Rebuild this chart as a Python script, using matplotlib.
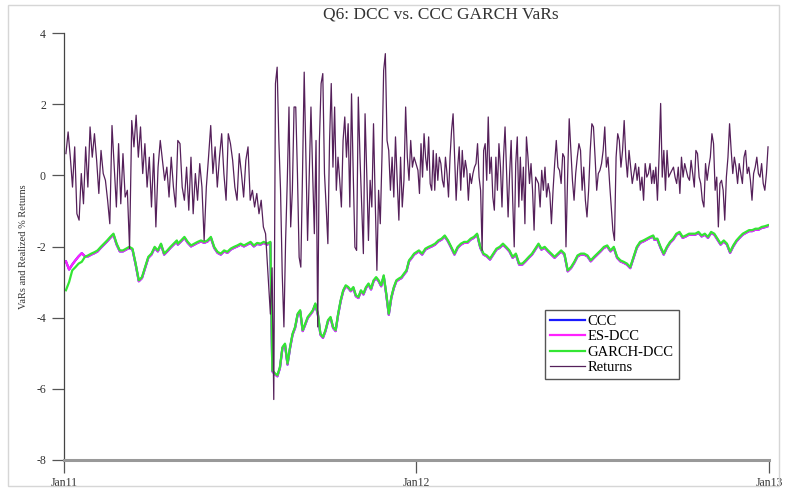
import matplotlib
matplotlib.use("Agg")
import matplotlib.pyplot as plt
import matplotlib.dates as mdates
import matplotlib.transforms as mtransforms
from matplotlib.patches import Rectangle
import numpy as np
import pandas as pd

plt.rcParams['font.family'] = ['Liberation Serif', 'DejaVu Serif']

# realized % returns
ret_2011_a = [0.61, 1.22, 0.51, -0.33, 0.80, -1.08, -1.26, 0.05, -0.80, 0.80,
              -0.33, 1.36, 0.51, 1.17, 0.42, -0.51, 0.70, 0.05, -0.14, -0.70,
              -1.36, 1.40, 0.23, -0.89, 0.89, -0.80, 0.61, -0.61, -0.42, -2.06,
              1.54, 0.80, 1.69, 0.51, 1.36, 0.05, 0.89, -0.33, 0.51, -0.89,
              0.61, -1.45, 0.23, 0.98, 0.42, -0.14, 0.23, -0.61, 0.51, -0.33,
              -0.89, 0.98, 0.89, -0.33, -0.70, 0.23, -0.98, 0.51, -1.08, 0.05,
              -0.70, 0.33, -0.33, -1.83, -0.33, 0.51, 1.40, 0.05, 0.80, -0.33,
              0.51, 1.17, 0.05, -0.70, 1.17, 0.89, 0.42, -0.33, -0.70, 0.61,
              0.05, -0.61, 0.42, 0.80, -0.70, -0.42, -0.89, -0.51, -1.08, -0.70,
              -1.45, -1.64]
ret_2011_b = [-3.90, -2.60, -6.30, 2.58, 3.04, 0.98, -0.42, -2.76, -4.26, -1.83,
              -0.14, 1.92, -1.45, -0.42, 1.92, 1.92, 0.05, -2.30, -2.58, 0.05,
              2.90, 0.51, -1.83, 0.05, 1.92, 0.05, -1.64, 0.98, -4.26, 0.98,
              2.58, 2.86, 0.05, -0.89, -1.92, 0.98, 2.58, 0.23, 1.92, -0.42,
              0.51, -0.14, -0.89, 0.98, 1.64, 0.51, 1.45, -0.89, 2.29, 0.05,
              -2.02, -2.11, 2.20, 0.51, -0.89, -2.20, 1.73, 0.05, -1.83, -0.14,
              -0.89, 1.45, -0.70, -2.67, -0.42, -1.36, 0.51, 2.95, 3.42, 0.98,
              0.70, -0.42, 0.51, -0.61, 1.08, -0.14, -1.26, 0.51, -0.89, -0.14,
              1.92, 0.51, -0.14, 0.98, 0.23, 0.51]
ret_2012_a = [0.14, -0.51, 0.89, -0.05, 1.17, 0.51, 0.14, 1.08, -0.23, -0.42,
              0.70, -0.42, 0.61, -0.14, 0.51, 0.33, -0.14, -0.33, 0.51, 0.05,
              -0.61, 0.51, 1.26, 1.73, 0.51, -0.70, 0.23, 0.80, -0.42, 0.70,
              -0.05, 0.42, 0.14, -0.70, 0.05, -0.23, 0.05, 0.23, 0.33, 0.89,
              -0.05, -0.42, -2.11, 0.70, 0.89, -0.14, 1.64, 0.05, 0.51, -0.61,
              -0.98, 0.51, -0.42, 0.89, 0.23, -0.89, 0.51, 1.36, 0.05, -1.17,
              0.05, 0.98, -0.70, -2.01, 0.33, 1.08, -0.89, 0.51, -0.70, 0.23,
              -1.36, 1.08, 0.51, -0.23, 0.33, -0.42, -1.54, -0.05]
ret_2012_b = [-0.23, -0.89, 0.14, -0.42, 0.23, -0.61, -0.23, -0.51, -1.36, -0.42,
              0.33, 0.98, 0.23, 0.14, -0.23, 0.61, 0.51, -2.01, -0.05, 1.59,
              0.70, -0.14, -0.70, 0.05, 0.51, 0.89, 0.70, -0.42, 0.23, -0.70,
              -1.17, -0.42, 0.70, 1.45, 1.36, 0.51, -0.42, 0.05, 0.14, 0.33,
              0.70, 1.36, 0.23, 0.51, -0.23, -0.89, -1.54, -1.83, 0.51, 1.17,
              0.98, 0.23, 0.70, 1.54, 0.51, -0.05, 0.70, 0.23, -0.23, 0.05,
              0.33, -0.14, 0.23, -0.42, -0.05, -0.70, 0.33, -0.05, 0.05, 0.33,
              -0.23, 0.14]
ret_2012_c = [-0.23, 0.23, -0.70, 0.51, 2.02, -0.05, 0.70, -0.42, 0.70, -0.05,
              0.05, 0.14, 0.23, -0.05, -0.23, 0.23, -0.51, 0.51, -0.05, 0.33,
              0.14, -0.05, -0.14, 0.42, 0.05, -0.33, 0.70, 0.61, -0.05, -0.23,
              -0.70, -0.89, 0.33, -0.14, 0.23, 0.51, 1.17, 0.89, -0.42, -0.05,
              -1.45, -0.23, -0.14, -0.42, -1.26, -0.05, 0.51, 1.45, 0.70, 0.05,
              0.51, 0.23, -0.23, 0.33, 0.05, -0.23, 0.51, 0.70, 0.05, 0.23,
              -0.14, -0.70, 0.05, 0.23, 0.51, 0.05, -0.05, 0.33, -0.23, -0.42,
              0.05, 0.80]
ret_periods = [("2011-01-03", "2011-07-29"), ("2011-08-03", "2011-12-30"),
               ("2012-01-03", "2012-05-04"), ("2012-05-07", "2012-09-03"),
               ("2012-09-04", "2012-12-31")]

# GARCH-DCC VaR
garch_2011_a = [-3.23, -3.00, -2.67, -2.58, -2.48, -2.43, -2.29, -2.25, -2.20, -2.16,
                -2.11, -2.01, -1.92, -1.83, -1.73, -1.64, -1.92, -2.11, -2.11, -2.06,
                -2.01, -2.06, -2.48, -2.95, -2.86, -2.58, -2.29, -2.20, -2.01, -2.11,
                -1.92, -2.20, -2.11, -2.01, -1.92, -1.83]
garch_2011_b = [-1.92, -1.83, -1.73, -1.87, -1.97, -1.92, -1.87, -1.83, -1.87, -1.83,
                -1.73, -2.01, -2.15, -2.20, -2.11, -2.15, -2.06, -2.01, -1.97, -1.92,
                -1.97, -1.92, -1.87, -1.97, -1.90, -1.92, -1.87, -1.92, -1.87]
garch_2011_c = [-5.48, -5.56, -5.62, -5.39, -4.83, -4.73, -5.29, -4.83, -4.45, -4.26,
                -3.89, -3.79, -4.35, -4.17, -3.98, -3.89, -3.79, -3.60, -3.89, -4.45,
                -4.54, -4.35, -4.07, -3.98, -4.26, -4.35, -3.89, -3.51, -3.23, -3.09,
                -3.14, -3.23, -3.14, -3.37, -3.42, -3.23, -3.32, -3.14, -3.04, -3.18,
                -2.95, -2.86, -2.95, -3.09, -2.81, -3.32, -3.89, -3.42, -3.14, -2.95,
                -2.90, -2.86, -2.76, -2.67, -2.39, -2.30, -2.20]
garch_2012_a = [-2.11, -2.20, -2.06, -2.01, -1.97, -1.92, -1.83, -1.78, -1.69, -1.83,
                -2.01, -2.20, -2.01, -1.92, -1.87, -1.87, -1.78, -1.73, -1.64, -2.01,
                -2.20, -2.25, -2.34, -2.20, -2.06, -2.01, -1.92, -2.01, -2.11, -2.29,
                -2.20, -2.48, -2.48, -2.39, -2.29, -2.20, -2.06, -1.92]
garch_2012_b = [-2.06, -2.01, -2.11, -2.20, -2.29, -2.20, -2.11, -2.20, -2.67, -2.58,
                -2.43, -2.25, -2.20, -2.20, -2.25, -2.39, -2.29, -2.20, -2.11, -2.01,
                -1.97, -2.11, -2.01, -2.29, -2.39, -2.43, -2.48, -2.58, -2.29, -2.01,
                -1.87, -1.83, -1.78, -1.73, -1.69]
garch_2012_c = [-1.78, -1.78, -2.01, -2.20, -2.01, -1.87, -1.78, -1.64, -1.59, -1.73,
                -1.69, -1.64, -1.64, -1.64, -1.59, -1.69, -1.64, -1.73, -1.59, -1.64,
                -1.78, -1.92, -1.83, -1.92, -2.15, -1.97, -1.83, -1.73, -1.64, -1.59,
                -1.54, -1.54, -1.50, -1.50, -1.45, -1.43, -1.40]
var_periods = [("2011-01-03", "2011-04-28"), ("2011-04-29", "2011-08-03"),
               ("2011-08-05", "2011-12-30"), ("2012-01-04", "2012-05-07"),
               ("2012-05-10", "2012-09-03"), ("2012-09-04", "2012-12-31")]

# ES-DCC / CCC only part from GARCH-DCC in the first weeks, then lie under it
es_dcc_start = [-2.39, -2.62, -2.48, -2.36, -2.25, -2.16, -2.25]


def join(pieces, periods):
    d, v = [], []
    for vals, (a, b) in zip(pieces, periods):
        d.append(pd.date_range(a, b, periods=len(vals)))
        v.extend(vals)
    return np.concatenate([np.asarray(x) for x in d]), np.array(v)


ret_dates, returns = join([ret_2011_a, ret_2011_b, ret_2012_a, ret_2012_b, ret_2012_c], ret_periods)
var_dates, garch_dcc = join([garch_2011_a, garch_2011_b, garch_2011_c,
                             garch_2012_a, garch_2012_b, garch_2012_c], var_periods)
es_dcc = np.concatenate([es_dcc_start, garch_dcc[len(es_dcc_start):]])
ccc = es_dcc

fig = plt.figure(figsize=(7.86, 4.91), dpi=100)
ax = fig.add_axes([64 / 786, 31 / 491, 705 / 786, 427 / 491])

below = mtransforms.offset_copy(ax.transData, fig=fig, x=0, y=-0.7, units='points')
ax.plot(var_dates, ccc, color='#1a1aff', lw=1.6, label='CCC', transform=below)
ax.plot(var_dates, es_dcc, color='#ff22ff', lw=1.6, label='ES-DCC', transform=below)
ax.plot(var_dates, garch_dcc, color='#33e633', lw=1.6, label='GARCH-DCC')
ax.plot(ret_dates, returns, color='#55205a', lw=0.9, label='Returns')

ax.set_xlim(pd.Timestamp("2011-01-01"), pd.Timestamp("2013-01-01"))
ax.set_ylim(-8, 4)
ax.set_yticks([-8, -6, -4, -2, 0, 2, 4])
ax.set_yticklabels(['-8', '-6', '-4', '-2', '0', '2', '4'])
ax.set_xticks([pd.Timestamp("2011-01-01"), pd.Timestamp("2012-01-01"), pd.Timestamp("2013-01-01")])
ax.xaxis.set_major_formatter(mdates.DateFormatter('%b%y'))

for s in ['top', 'right']:
    ax.spines[s].set_visible(False)
ax.spines['left'].set_color('#444444')
ax.spines['left'].set_linewidth(0.9)
ax.spines['bottom'].set_color('#999999')
ax.spines['bottom'].set_linewidth(2.2)
ax.tick_params(axis='y', direction='out', length=9, width=0.9, color='#555555',
               labelsize=8.5, labelcolor='#333333', pad=4)
ax.tick_params(axis='x', direction='out', length=9, width=0.9, color='#555555',
               labelsize=8.5, labelcolor='#333333', pad=3)
ax.set_ylabel('VaRs and Realized % Returns', fontsize=7.5, color='#333333', labelpad=6)

fig.text(441 / 786, 0.97, 'Q6: DCC vs. CCC GARCH VaRs', ha='center', va='center',
         fontsize=12.5, color='#333333')

leg = ax.legend(loc='upper left', bbox_to_anchor=(0.682, 0.352), borderaxespad=0,
                fontsize=10.5, handlelength=2.4, handletextpad=0.2, labelspacing=0.15,
                borderpad=0.35, fancybox=False, framealpha=1)
leg.get_frame().set_edgecolor('#555555')
leg.get_frame().set_linewidth(1.0)

fig.patches.append(Rectangle((8 / 786, 5 / 491), 771 / 786, 481 / 491, transform=fig.transFigure,
                             fill=False, edgecolor='#d6d6d6', lw=1.0))

fig.savefig('out.png', dpi=100)
